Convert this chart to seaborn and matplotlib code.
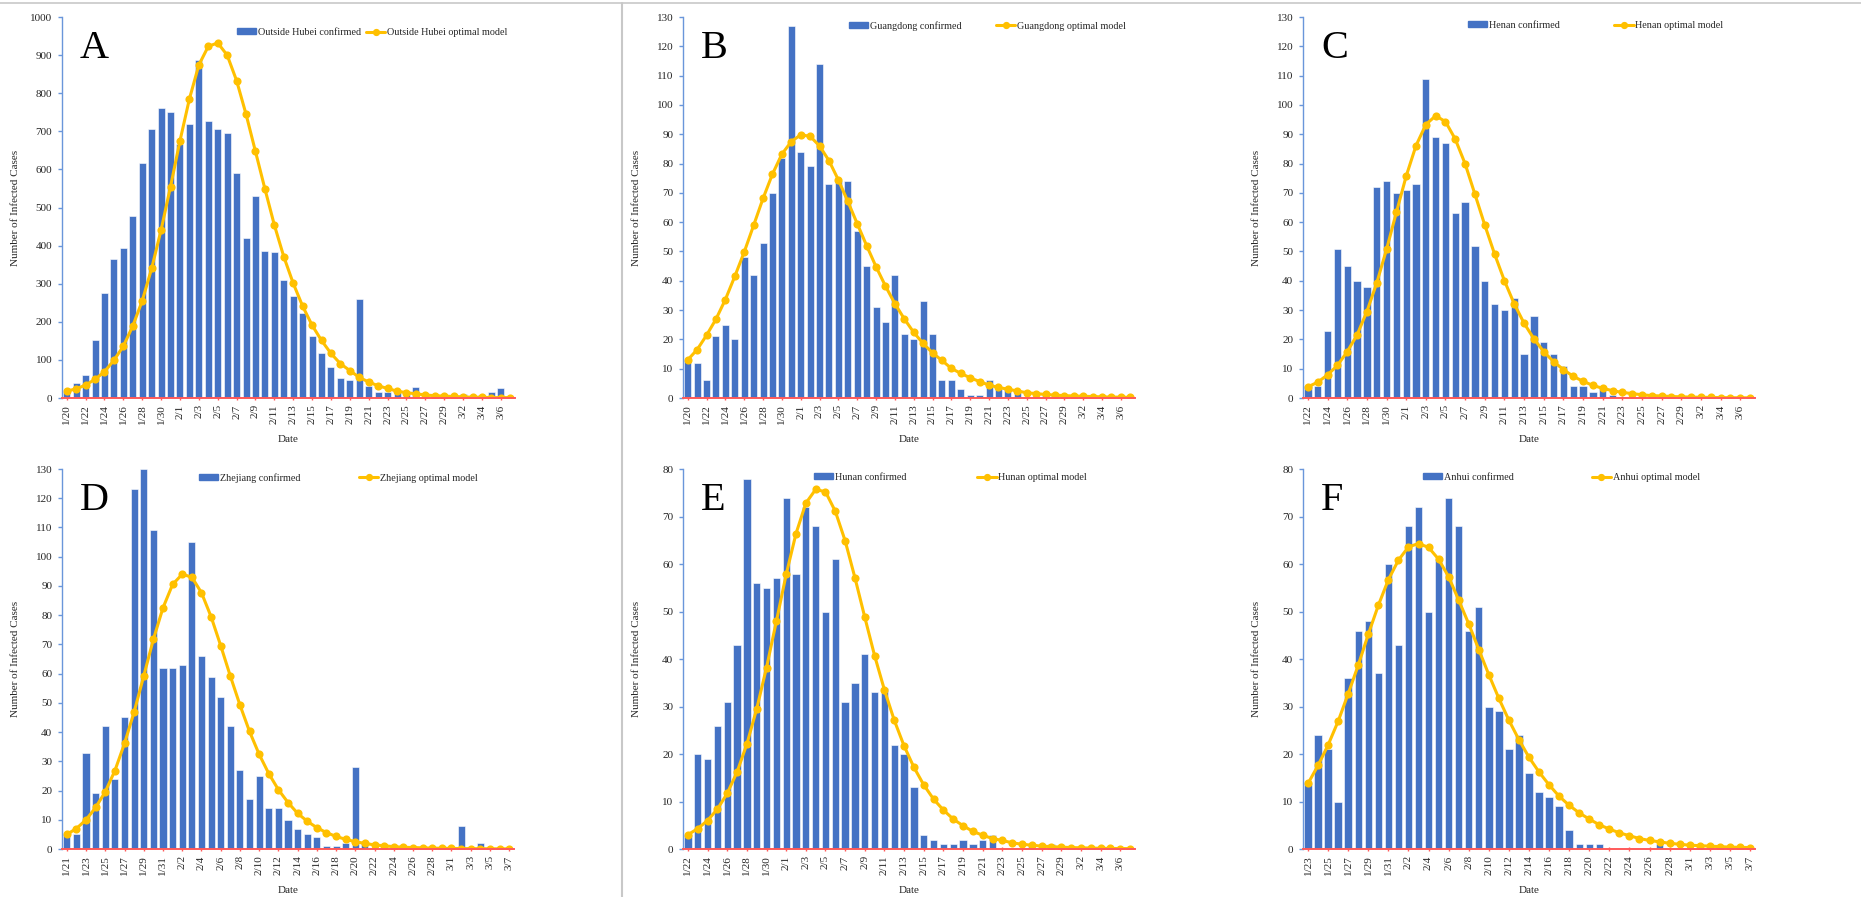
import numpy as np
import pandas as pd
import matplotlib
matplotlib.use("Agg")
import matplotlib.pyplot as plt
import seaborn as sns
from matplotlib.patches import Patch
from matplotlib.lines import Line2D

sns.set_theme(style="white")
plt.rcParams["font.family"] = ["Liberation Serif", "DejaVu Serif"]

def day_labels(start, end):
    return [f"{d.month}/{d.day}" for d in pd.date_range(start, end, freq="D")]

dates_A = day_labels("2020-01-20", "2020-03-07")
dates_B = day_labels("2020-01-20", "2020-03-07")
dates_C = day_labels("2020-01-22", "2020-03-07")
dates_D = day_labels("2020-01-21", "2020-03-07")
dates_E = day_labels("2020-01-22", "2020-03-07")
dates_F = day_labels("2020-01-23", "2020-03-07")

conf_A = [16, 40, 60, 152, 275, 365, 395, 478, 617, 705, 761, 751,
          667, 720, 887, 728, 705, 695, 591, 421, 530, 386,
          382, 310, 269, 222, 164, 119, 82, 53, 48, 259,
          32, 17, 17, 15, 11, 28, 7, 4, 4,
          7, 11, 3, 7, 16, 27, 0]
model_A = [18, 24, 34, 49, 69, 99, 136, 189, 255, 340, 441, 555,
           675, 785, 874, 923, 932, 900, 833, 745, 647, 549,
           454, 371, 301, 241, 191, 151, 117, 90, 72, 54,
           42, 32, 25, 18, 14, 11, 8, 6, 5,
           4, 3, 2, 2, 1, 1, 1]

conf_B = [13, 12, 6, 21, 25, 20, 48, 42, 53, 70, 82, 127,
          84, 79, 114, 73, 74, 74, 57, 45, 31, 26,
          42, 22, 20, 33, 22, 6, 6, 3, 1, 1,
          6, 3, 3, 2, 0, 0, 1, 1, 0,
          0, 0, 0, 0, 0, 0, 0]
model_B = [13, 16.5, 21.4, 26.9, 33.6, 41.5, 49.8, 58.9, 68.1, 76.4, 83.2, 87.5,
           89.8, 89.3, 86, 81, 74.4, 67.1, 59.5, 52, 44.8, 38.2,
           32.2, 27, 22.4, 18.6, 15.4, 12.8, 10.1, 8.4, 6.9, 5.6,
           4.4, 3.6, 3.0, 2.4, 1.8, 1.5, 1.2, 1.0, 0.8,
           0.7, 0.6, 0.5, 0.4, 0.3, 0.3, 0.2]

conf_C = [4, 4, 23, 51, 45, 40, 38, 72, 74, 70,
          71, 73, 109, 89, 87, 63, 67, 52, 40, 32,
          30, 34, 15, 28, 19, 15, 11, 4, 4, 2,
          3, 1, 0, 0, 0, 0, 0, 0, 0,
          0, 0, 0, 0, 0, 0, 0]
model_C = [3.8, 5.4, 7.9, 11.1, 15.8, 21.5, 29.5, 39.2, 50.7, 63.3,
           75.7, 86.1, 93.3, 96.3, 94.3, 88.3, 79.9, 69.5, 59, 49.1,
           40, 32.1, 25.5, 20.2, 15.8, 12.4, 9.7, 7.4, 5.7, 4.3,
           3.3, 2.5, 1.9, 1.5, 1.1, 0.8, 0.7, 0.5, 0.4,
           0.3, 0.25, 0.2, 0.15, 0.1, 0.08, 0.06]

conf_D = [5, 5, 33, 19, 42, 24, 45, 123, 130, 109, 62,
          62, 63, 105, 66, 59, 52, 42, 27, 17, 25,
          14, 14, 10, 7, 5, 4, 1, 1, 2, 28,
          2, 0, 0, 0, 0, 0, 0, 0, 0,
          0, 8, 0, 2, 0, 0, 0]
model_D = [5, 7, 10, 14.2, 19.6, 26.8, 36.1, 46.9, 59.2, 71.7, 82.5,
           90.5, 94, 93, 87.7, 79.5, 69.6, 59.2, 49.3, 40.2, 32.4,
           25.8, 20.3, 15.9, 12.2, 9.5, 7.3, 5.6, 4.3, 3.3, 2.5,
           1.9, 1.4, 1.1, 0.8, 0.6, 0.5, 0.4, 0.3, 0.25,
           0.2, 0.15, 0.12, 0.1, 0.08, 0.06, 0.05]

conf_E = [3, 20, 19, 26, 31, 43, 78, 56, 55, 57,
          74, 58, 72, 68, 50, 61, 31, 35, 41, 33,
          34, 22, 20, 13, 3, 2, 1, 1, 2, 1,
          2, 3, 0, 0, 0, 1, 0, 1, 0,
          0, 0, 0, 0, 0, 0, 0]
model_E = [3, 4.3, 6, 8.4, 11.7, 16.2, 22.1, 29.5, 38.2, 47.9,
           57.8, 66.4, 72.8, 75.7, 75.2, 71.1, 64.9, 57.1, 48.8, 40.7,
           33.5, 27.1, 21.7, 17.2, 13.5, 10.5, 8.2, 6.3, 4.9, 3.7,
           2.9, 2.2, 1.8, 1.3, 1.0, 0.8, 0.6, 0.5, 0.4,
           0.3, 0.25, 0.2, 0.15, 0.12, 0.1, 0.08]

conf_F = [14, 24, 21, 10, 36, 46, 48, 37, 60,
          43, 68, 72, 50, 61, 74, 68, 46, 51, 30,
          29, 21, 24, 16, 12, 11, 9, 4, 1, 1,
          1, 0, 0, 0, 0, 0, 1, 0, 0,
          0, 0, 0, 0, 0, 0, 0]
model_F = [13.8, 17.6, 21.9, 26.9, 32.7, 38.7, 45.2, 51.3, 56.7,
           60.8, 63.6, 64.3, 63.5, 61, 57.3, 52.4, 47.4, 42, 36.7,
           31.7, 27.1, 23, 19.3, 16.2, 13.5, 11.1, 9.2, 7.6, 6.3,
           5.1, 4.2, 3.4, 2.8, 2.2, 1.8, 1.5, 1.2, 1.0,
           0.8, 0.7, 0.6, 0.5, 0.4, 0.35, 0.3]

regions = ["Outside Hubei", "Guangdong", "Henan", "Zhejiang", "Hunan", "Anhui"]
letters = ["A", "B", "C", "D", "E", "F"]
ymax = [1000, 130, 130, 130, 80, 80]
ystep = [100, 10, 10, 10, 10, 10]

BAR = "#4472C4"
LINE = "#FFC000"
AX_BLUE = "#6A96DA"
AX_RED = "#FF5A5A"
TXT = "#262626"

W, H = 1861, 897
fig = plt.figure(figsize=(W / 100, H / 100), dpi=100)

# axes boxes in pixels: left, top, right, bottom
boxes = [(62, 17, 515, 398), (683, 17, 1135, 398), (1303, 17, 1755, 398),
         (62, 469, 514, 849), (683, 469, 1135, 849), (1303, 469, 1755, 849)]
# legend left edge (px) and columnspacing
leg_left = [237, 849, 1468, 199, 814, 1423]
leg_top = [28, 21, 21, 473, 473, 473]
col_space = [0.5, 3.4, 5.4, 5.8, 7.0, 7.7]

data = [(dates_A, conf_A, model_A), (dates_B, conf_B, model_B),
        (dates_C, conf_C, model_C), (dates_D, conf_D, model_D),
        (dates_E, conf_E, model_E), (dates_F, conf_F, model_F)]

for i, ((dates, conf, model), box) in enumerate(zip(data, boxes)):
    l, t, r, b = box
    ax = fig.add_axes([l / W, 1 - b / H, (r - l) / W, (b - t) / H])
    df = pd.DataFrame({"date": dates, "confirmed": conf, "model": model})
    sns.barplot(data=df, x="date", y="confirmed", ax=ax, color=BAR,
                saturation=1, width=0.74, edgecolor="white", linewidth=0.4)
    sns.pointplot(data=df, x="date", y="model", ax=ax, color=LINE,
                  markers="o", markersize=4.2, linewidth=2.2, errorbar=None)
    n = len(dates)
    ax.set_xlim(-0.5, n - 0.5)
    ax.set_ylim(0, ymax[i])
    ax.set_yticks(np.arange(0, ymax[i] + 1, ystep[i]))
    ax.set_xticks(range(0, n, 2))
    ax.set_xticklabels(dates[::2], rotation=90)
    ax.tick_params(axis="y", labelsize=8, colors=AX_BLUE, labelcolor=TXT,
                   length=3, width=1, direction="out", pad=4, left=True)
    ax.tick_params(axis="x", labelsize=8, colors=AX_RED, labelcolor=TXT,
                   length=3, width=1, direction="inout", pad=3, bottom=True)
    for s in ["top", "right"]:
        ax.spines[s].set_visible(False)
    ax.spines["left"].set_color(AX_BLUE)
    ax.spines["left"].set_linewidth(1.0)
    ax.spines["bottom"].set_color(AX_RED)
    ax.spines["bottom"].set_linewidth(1.4)
    ax.spines["bottom"].set_zorder(5)
    ax.set_xlabel("Date", fontsize=8, color=TXT)
    ax.xaxis.set_label_coords(0.5, -37 / (b - t))
    ax.set_ylabel("Number of Infected Cases", fontsize=8, color=TXT)
    ax.yaxis.set_label_coords(-42 / (r - l), 0.5)
    ax.grid(False)
    ax.set_facecolor("white")

    ax.text(0.04, 0.965, letters[i], transform=ax.transAxes,
            fontsize=29, ha="left", va="top", color="black")

    handles = [Patch(facecolor=BAR, edgecolor=BAR),
               Line2D([0], [0], color=LINE, lw=2.2, marker="o", markersize=4.2)]
    labels = [f"{regions[i]} confirmed", f"{regions[i]} optimal model"]
    lx = (leg_left[i] - l) / (r - l)
    ly = 1 - (leg_top[i] - t) / (b - t)
    ax.legend(handles, labels, loc="upper left", bbox_to_anchor=(lx, ly),
              ncol=2, frameon=False, fontsize=7.3, handlelength=1.9,
              handleheight=0.55, handletextpad=0.15, columnspacing=col_space[i],
              borderaxespad=0, borderpad=0, labelcolor=TXT)

# frame lines
fig.add_artist(Line2D([0, 1], [1 - 3 / H, 1 - 3 / H], color="#c8c8c8", lw=1.2,
                      transform=fig.transFigure))
fig.add_artist(Line2D([622 / W, 622 / W], [0, 1 - 3 / H], color="#c8c8c8", lw=1.5,
                      transform=fig.transFigure))

fig.savefig("out.png", dpi=100, facecolor="white")
